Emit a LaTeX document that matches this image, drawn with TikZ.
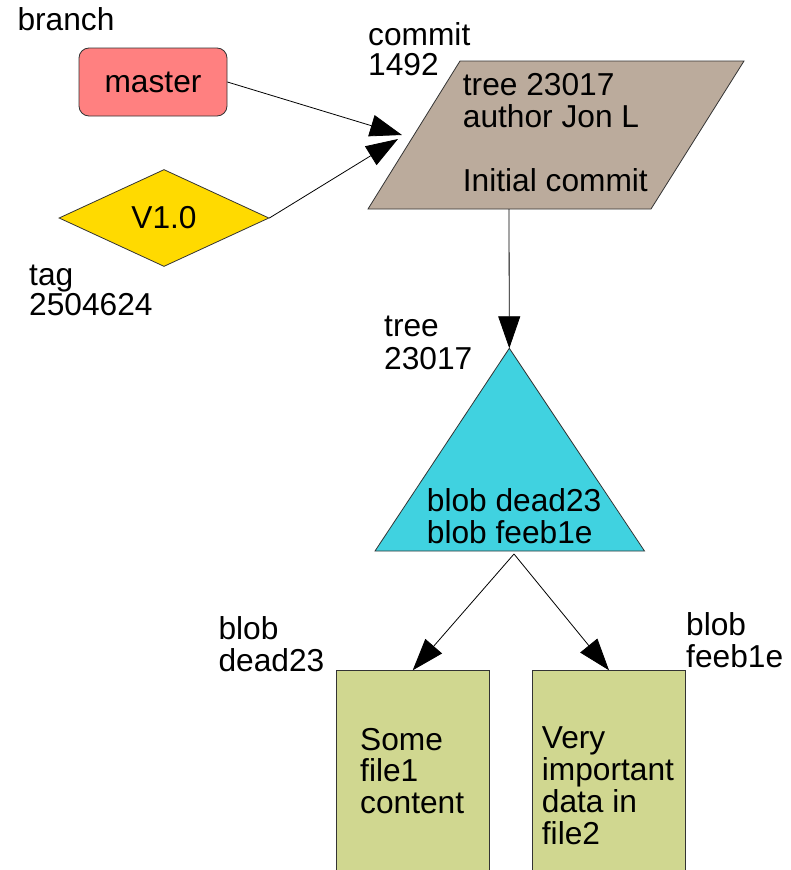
\documentclass[tikz,border=0pt]{standalone}
\usepackage{fontspec}
\setmainfont{Liberation Sans}
\usetikzlibrary{arrows.meta,shapes.geometric}

\definecolor{branchred}{HTML}{FF8080}
\definecolor{taggold}{HTML}{FFDA00}
\definecolor{committaupe}{HTML}{BBAB9C}
\definecolor{treecyan}{HTML}{40D2E0}
\definecolor{blobolive}{HTML}{D0D790}
\definecolor{outline}{HTML}{333333}

% stacked lines of text with a given baseline distance
\newcommand\stacklines[2]{\vtop{\baselineskip=#1\lineskiplimit=-100pt\relax #2}}

\tikzset{
  obj/.style={draw=outline, line width=0.8pt},
  txt/.style={inner sep=0pt, font=\fontsize{31.7}{32}\selectfont},
  lbl/.style={txt, anchor=base west},
  link/.style={draw=black, line width=0.8pt, -{Triangle[length=32pt,width=22pt]}},
}

\begin{document}
\begin{tikzpicture}[x=1pt, y=-1pt]
\useasboundingbox (0,0) rectangle (790,870);

% branch
\node[obj, txt, fill=branchred, rounded corners=10pt, minimum width=148pt,
      minimum height=68pt] (master) at (153,82) {master};
\node[lbl] (branchlbl) at (17.3,30) {branch};

% tag
\node[obj, txt, fill=taggold, diamond, aspect=2.16, minimum width=210pt,
      minimum height=97pt] (tag) at (164,218) {V1.0};
\node[lbl] (taglbl) at (29,285) {\stacklines{30pt}{\hbox{tag}\hbox{2504624}}};

% commit
\path[obj, fill=committaupe] (368,209) -- (460,61) -- (744,61) -- (651,209) -- cycle;
\node[lbl] (commit) at (462.7,95)
  {\stacklines{32.3pt}{\hbox{tree 23017}\hbox{author Jon L}\hbox{}\hbox{Initial commit}}};
\node[lbl] (commitlbl) at (368,45) {\stacklines{30pt}{\hbox{commit}\hbox{1492}}};
\coordinate (commitinA) at (402,135);
\coordinate (commitinB) at (398,139);
\coordinate (commitout) at (509,209);

% tree
\path[obj, fill=treecyan] (509.3,348.3) -- (644.5,551) -- (375,551) -- cycle;
\node[lbl] (tree) at (426.7,511.7) {\stacklines{31.5pt}{\hbox{blob dead23}\hbox{blob feeb1e}}};
\node[lbl] (treelbl) at (384,336.7) {\stacklines{32.3pt}{\hbox{tree}\hbox{23017}}};
\coordinate (treetop) at (509.3,348.3);
\coordinate (treeout) at (514,554);

% blobs
\node[obj, fill=blobolive, minimum width=153pt, minimum height=240pt,
      inner sep=0pt] (blobA) at (412.7,790.7) {};
\node[obj, fill=blobolive, minimum width=153pt, minimum height=240pt,
      inner sep=0pt] (blobB) at (609,790.7) {};
\node[lbl] (blobAtxt) at (360,750)
  {\stacklines{31.6pt}{\hbox{Some}\hbox{file1}\hbox{content}}};
\node[lbl] (blobBtxt) at (541.7,748)
  {\stacklines{32.3pt}{\hbox{Very}\hbox{important}\hbox{data in}\hbox{file2}}};
\node[lbl] (blobAlbl) at (218.3,639) {\stacklines{32.7pt}{\hbox{blob}\hbox{dead23}}};
\node[lbl] (blobBlbl) at (686,635) {\stacklines{32.7pt}{\hbox{blob}\hbox{feeb1e}}};

% references
\draw[link] (master.east) -- (commitinA);
\draw[link] (tag.east) -- (commitinB);
\draw[link] (commitout) -- (treetop);
\draw[link] (treeout) -- (blobA.north);
\draw[link] (treeout) -- (blobB.north);
\end{tikzpicture}
\end{document}
